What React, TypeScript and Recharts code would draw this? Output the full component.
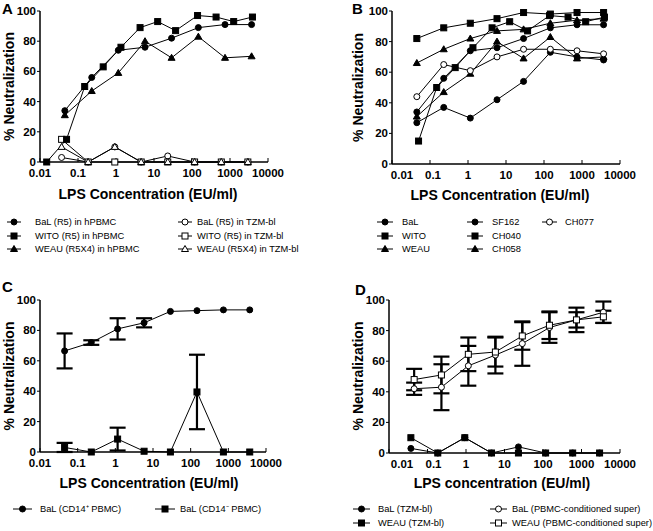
import React from "react";
import { ComposedChart, Line, XAxis, YAxis, ErrorBar } from "recharts";

const FONT = "'Liberation Sans', Arial, Helvetica, sans-serif";

// LPS concentrations (EU/ml)
const lpsFive = [0.045, 0.23, 1.15, 5.8, 29, 147, 740, 3700];
const lpsTzm = [0.037, 0.185, 0.93, 4.6, 23, 117, 590, 2950];
const lpsWito = [0.015, 0.05, 0.15, 0.46, 1.35, 4.3, 12.5, 37, 140, 430, 1250, 3900];

const xTicks = [0.01, 0.1, 1, 10, 100, 1000, 10000];
const yTicks = [0, 20, 40, 60, 80, 100];

// hPBMC
const balPbmc = [34, 56, 74, 76, 82, 89, 91, 91];
const witoPbmc = [0, 15, 50, 63, 76, 89, 93, 87, 97, 96, 93, 96];
const weauPbmc = [31, 47, 59, 80, 69, 83, 69, 70];
// TZM-bl
const balTzm = [3, 0, 10, 0, 4, 0, 0, 0];
const witoTzm = [15, 0, 0, 0, 0, 0, 0, 0];
const weauTzm = [10, 0, 10, 0, 0, 0, 0, 0];
// other isolates (B)
const sf162 = [27, 37, 30, 42, 54, 73, 70, 68];
const ch040 = [82, 89, 92, 95, 99, 98, 99, 99];
const ch058 = [66, 75, 82, 87, 88, 92, 94, 95];
const ch077 = [44, 65, 61, 70, 75, 75, 74, 72];
// C
const cd14Pos = [66.5, 72, 81, 85, 92.5, 93, 93.5, 93.5];
const cd14PosErr = [11.5, 1.5, 7, 3, 0, 0, 0, 0];
const cd14Neg = [3, 0, 8.5, 0.5, 0, 39.5, 0, 0];
const cd14NegErr = [3, 0, 7.5, 0, 0, 24.5, 0, 0];
// D
const balSuper = [42, 43, 57, 64, 71.5, 82, 87, 92];
const balSuperErr = [4, 15, 13, 12, 14.5, 10, 5, 7];
const weauSuper = [48, 51, 64.5, 66, 76.5, 83.5, 87, 89];
const weauSuperErr = [7, 12, 11, 9.5, 9, 9, 8, 4];

const namesA = [
  "BaL (R5) in hPBMC",
  "WITO (R5) in hPBMC",
  "WEAU (R5X4) in hPBMC",
  "BaL (R5) in TZM-bl",
  "WITO (R5)  in TZM-bl",
  "WEAU (R5X4) in TZM-bl",
];
const namesB = ["BaL", "WITO", "WEAU", "SF162", "CH040", "CH058", "CH077"];
const namesC = ["BaL (CD14\u207A PBMC)", "BaL (CD14\u207B PBMC)"];
const namesD = [
  "BaL (TZM-bl)",
  "WEAU (TZM-bl)",
  "BaL (PBMC-conditioned super)",
  "WEAU (PBMC-conditioned super)",
];

type Shape = "circle" | "square" | "triangle";
type Series = {
  xs: number[];
  ys: number[];
  err?: number[];
  shape: Shape;
  filled: boolean;
};

function marker(shape: Shape, filled: boolean, cx: number, cy: number, key?: React.Key) {
  const s = 3;
  const p = { fill: filled ? "#000" : "#fff", stroke: "#000", strokeWidth: 1 };
  if (shape === "circle") return <circle key={key} cx={cx} cy={cy} r={s} {...p} />;
  if (shape === "square")
    return <rect key={key} x={cx - s} y={cy - s} width={2 * s} height={2 * s} {...p} />;
  return (
    <polygon
      key={key}
      points={`${cx},${cy - s - 0.5} ${cx - s - 0.5},${cy + s - 0.5} ${cx + s + 0.5},${cy + s - 0.5}`}
      {...p}
    />
  );
}

const toRows = (s: Series) =>
  s.xs.map((x, i) => ({ x, y: s.ys[i], e: s.err && s.err[i] ? s.err[i] : undefined }));

const tickFont = { fontSize: 11.5, fontWeight: 700, fill: "#000", fontFamily: FONT };

// x tick labels, first ones nudged right like in the figure
const xTick = (shifts: number[]) => (p: any) => (
  <text
    x={p.x + (shifts[p.index] || 0)}
    y={p.y}
    dy="0.71em"
    textAnchor="middle"
    {...tickFont}
  >
    {p.payload.value}
  </text>
);

function Panel({
  left,
  top,
  width,
  height,
  plotTop,
  plotHeight,
  yAxisWidth,
  series,
  shifts = [],
}: {
  left: number;
  top: number;
  width: number;
  height: number;
  plotTop: number;
  plotHeight: number;
  yAxisWidth: number;
  series: Series[];
  shifts?: number[];
}) {
  return (
    <div style={{ position: "absolute", left, top }}>
      <ComposedChart
        width={width}
        height={height}
        margin={{ top: plotTop, right: 30, bottom: 0, left: 0 }}
      >
        <XAxis
          type="number"
          dataKey="x"
          scale="log"
          domain={[0.01, 10000]}
          ticks={xTicks}
          allowDataOverflow
          interval={0}
          height={height - plotTop - plotHeight}
          tick={xTick(shifts)}
          tickSize={-4}
          tickMargin={11}
          axisLine={{ stroke: "#000", strokeWidth: 1.5 }}
          tickLine={{ stroke: "#000" }}
        />
        <YAxis
          type="number"
          domain={[0, 100]}
          ticks={yTicks}
          interval={0}
          width={yAxisWidth}
          tick={tickFont}
          tickSize={3}
          tickMargin={1}
          axisLine={{ stroke: "#000", strokeWidth: 1.5 }}
          tickLine={{ stroke: "#000" }}
        />
        {series.map((s, i) => (
          <Line
            key={i}
            data={toRows(s)}
            dataKey="y"
            stroke="#000"
            strokeWidth={1}
            isAnimationActive={false}
            dot={(d: any) => marker(s.shape, s.filled, d.cx, d.cy, d.index)}
            activeDot={false}
          >
            {s.err && (
              <ErrorBar dataKey="e" direction="y" width={8} stroke="#000" strokeWidth={2.2} />
            )}
          </Line>
        ))}
      </ComposedChart>
    </div>
  );
}

function LegendKey({
  x1,
  x2,
  tx,
  y,
  shape,
  filled,
  label,
}: {
  x1: number;
  x2: number;
  tx: number;
  y: number;
  shape: Shape;
  filled: boolean;
  label: string;
}) {
  return (
    <g>
      <line x1={x1} x2={x2} y1={y} y2={y} stroke="#000" strokeWidth={1} />
      {marker(shape, filled, (x1 + x2) / 2, y)}
      <text x={tx} y={y} dominantBaseline="central" fontSize={9.3} fontFamily={FONT} fill="#000">
        {label}
      </text>
    </g>
  );
}

const titleStyle = { fontSize: 14, fontWeight: 700, fontFamily: FONT, fill: "#000" };

export default function App() {
  const seriesA: Series[] = [
    { xs: lpsTzm, ys: balTzm, shape: "circle", filled: false },
    { xs: lpsTzm, ys: witoTzm, shape: "square", filled: false },
    { xs: lpsTzm, ys: weauTzm, shape: "triangle", filled: false },
    { xs: lpsFive, ys: balPbmc, shape: "circle", filled: true },
    { xs: lpsWito, ys: witoPbmc, shape: "square", filled: true },
    { xs: lpsFive, ys: weauPbmc, shape: "triangle", filled: true },
  ];
  const seriesB: Series[] = [
    { xs: lpsFive, ys: balPbmc, shape: "circle", filled: true },
    { xs: lpsWito.slice(1), ys: witoPbmc.slice(1), shape: "square", filled: true },
    { xs: lpsFive, ys: weauPbmc, shape: "triangle", filled: true },
    { xs: lpsFive, ys: sf162, shape: "circle", filled: true },
    { xs: lpsFive, ys: ch040, shape: "square", filled: true },
    { xs: lpsFive, ys: ch058, shape: "triangle", filled: true },
    { xs: lpsFive, ys: ch077, shape: "circle", filled: false },
  ];
  const seriesC: Series[] = [
    { xs: lpsFive, ys: cd14Pos, err: cd14PosErr, shape: "circle", filled: true },
    { xs: lpsFive, ys: cd14Neg, err: cd14NegErr, shape: "square", filled: true },
  ];
  const seriesD: Series[] = [
    { xs: lpsTzm, ys: balTzm, shape: "circle", filled: true },
    { xs: lpsTzm, ys: weauTzm, shape: "square", filled: true },
    { xs: lpsFive, ys: balSuper, err: balSuperErr, shape: "circle", filled: false },
    { xs: lpsFive, ys: weauSuper, err: weauSuperErr, shape: "square", filled: false },
  ];

  const rows = [222, 236, 249];

  return (
    <div
      style={{
        position: "absolute",
        left: 0,
        top: 0,
        width: 653,
        height: 531,
        background: "#fff",
        overflow: "hidden",
      }}
    >
      <Panel left={0} top={0} width={298} height={200} plotTop={11} plotHeight={151} yAxisWidth={40} series={seriesA} />
      <Panel left={320} top={0} width={330} height={200} plotTop={11} plotHeight={153} yAxisWidth={72} series={seriesB} shifts={[10, 3]} />
      <Panel left={0} top={270} width={296} height={225} plotTop={30} plotHeight={152} yAxisWidth={40} series={seriesC} />
      <Panel left={320} top={270} width={330} height={225} plotTop={30} plotHeight={153} yAxisWidth={69} series={seriesD} shifts={[13, 6]} />

      <svg
        width={653}
        height={531}
        style={{ position: "absolute", left: 0, top: 0, pointerEvents: "none" }}
      >
        {/* panel letters */}
        <text x={2} y={14} fontSize={15} fontWeight={700} fontFamily={FONT}>A</text>
        <text x={352} y={14} fontSize={15} fontWeight={700} fontFamily={FONT}>B</text>
        <text x={2} y={292} fontSize={15} fontWeight={700} fontFamily={FONT}>C</text>
        <text x={355} y={295} fontSize={15} fontWeight={700} fontFamily={FONT}>D</text>

        {/* y titles */}
        {[
          [9, 86.5],
          [358, 87.5],
          [9, 376],
          [357.5, 376],
        ].map(([x, y], i) => (
          <text
            key={i}
            transform={`translate(${x},${y}) rotate(-90)`}
            textAnchor="middle"
            dominantBaseline="central"
            {...titleStyle}
          >
            % Neutralization
          </text>
        ))}

        {/* x titles */}
        <text x={148} y={194} textAnchor="middle" dominantBaseline="central" {...titleStyle}>
          LPS Concentration (EU/ml)
        </text>
        <text x={500} y={195} textAnchor="middle" dominantBaseline="central" {...titleStyle}>
          LPS Concentration (EU/ml)
        </text>
        <text x={149} y={483} textAnchor="middle" dominantBaseline="central" {...titleStyle}>
          LPS Concentration (EU/ml)
        </text>
        <text x={502} y={483} textAnchor="middle" dominantBaseline="central" {...titleStyle}>
          LPS concentration (EU/ml)
        </text>

        {/* legend A */}
        {seriesA.slice(3).map((s, i) => (
          <LegendKey key={"a1" + i} x1={7} x2={21} tx={35} y={rows[i]} shape={s.shape} filled label={namesA[i]} />
        ))}
        {seriesA.slice(0, 3).map((s, i) => (
          <LegendKey key={"a2" + i} x1={178} x2={192} tx={197} y={rows[i]} shape={s.shape} filled={false} label={namesA[i + 3]} />
        ))}

        {/* legend B */}
        {seriesB.slice(0, 3).map((s, i) => (
          <LegendKey key={"b1" + i} x1={377} x2={393} tx={402} y={rows[i]} shape={s.shape} filled label={namesB[i]} />
        ))}
        {seriesB.slice(3, 6).map((s, i) => (
          <LegendKey key={"b2" + i} x1={467} x2={483} tx={492} y={rows[i]} shape={s.shape} filled label={namesB[i + 3]} />
        ))}
        <LegendKey x1={542} x2={557} tx={565} y={rows[0]} shape="circle" filled={false} label={namesB[6]} />

        {/* legend C */}
        <LegendKey x1={13} x2={32} tx={40} y={509} shape="circle" filled label={namesC[0]} />
        <LegendKey x1={155} x2={175} tx={180} y={509} shape="square" filled label={namesC[1]} />

        {/* legend D */}
        <LegendKey x1={353} x2={370} tx={378} y={509} shape="circle" filled label={namesD[0]} />
        <LegendKey x1={353} x2={370} tx={378} y={523} shape="square" filled label={namesD[1]} />
        <LegendKey x1={490} x2={507} tx={512} y={509} shape="circle" filled={false} label={namesD[2]} />
        <LegendKey x1={490} x2={507} tx={512} y={523} shape="square" filled={false} label={namesD[3]} />
      </svg>
    </div>
  );
}
